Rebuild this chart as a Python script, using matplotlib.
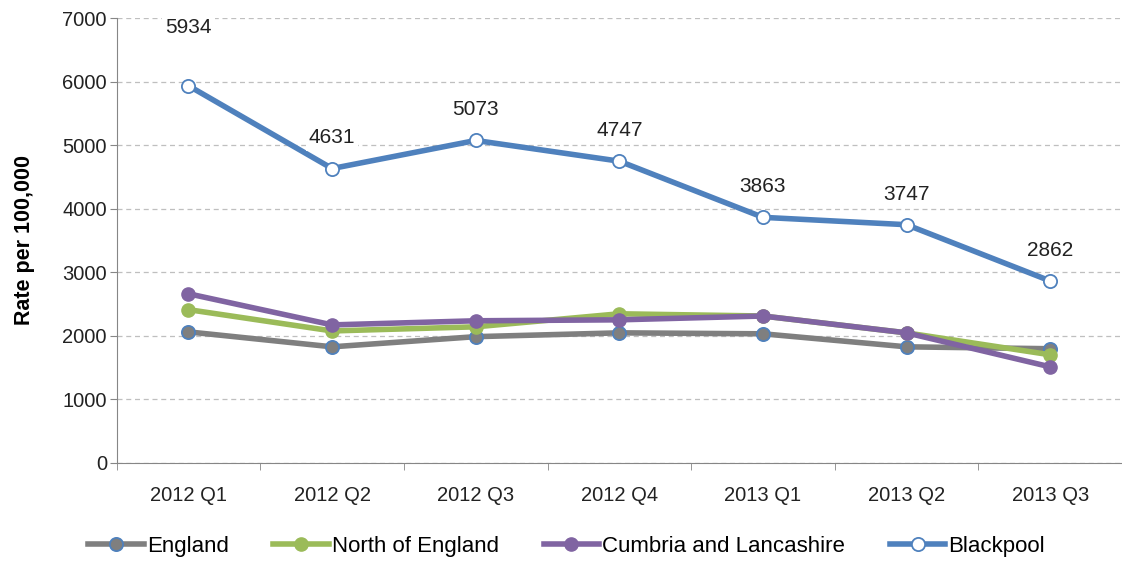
#Recreation of rate per 100,000 line chart
import numpy as np
import matplotlib.pyplot as plt

#Data
quarters = ['2012 Q1', '2012 Q2', '2012 Q3', '2012 Q4', '2013 Q1', '2013 Q2', '2013 Q3']
england = [2060, 1825, 1985, 2045, 2030, 1825, 1795]
north_england = [2410, 2075, 2140, 2345, 2310, 2045, 1700]
cumbria_lancs = [2660, 2170, 2235, 2250, 2310, 2045, 1510]
blackpool = [5934, 4631, 5073, 4747, 3863, 3747, 2862]

plt.rcParams['font.family'] = ['Liberation Sans', 'DejaVu Sans']

fig = plt.figure(figsize=(11.22, 5.63), dpi=100)
ax = fig.add_axes([0.104, 0.178, 0.896, 0.79])

x = np.arange(len(quarters))
lw = 4.0
ms = 9.5
ax.plot(x, england, color='#7f7f7f', lw=lw, marker='o', ms=ms,
        mfc='#7f7f7f', mec='#4f81bd', mew=1.3, label='England', zorder=3)
ax.plot(x, north_england, color='#9bbb59', lw=lw, marker='o', ms=ms,
        mfc='#9bbb59', mec='#9bbb59', label='North of England', zorder=4)
ax.plot(x, cumbria_lancs, color='#8064a2', lw=lw, marker='o', ms=ms,
        mfc='#8064a2', mec='#8064a2', label='Cumbria and Lancashire', zorder=5)
ax.plot(x, blackpool, color='#4f81bd', lw=lw, marker='o', ms=ms,
        mfc='white', mec='#4f81bd', mew=1.3, label='Blackpool', zorder=6)

#Data labels above Blackpool points (first one sits higher)
for i, v in enumerate(blackpool):
    off = 42 if i == 0 else 22
    ax.annotate(str(v), (x[i], v), xytext=(0, off), textcoords='offset points',
                ha='center', va='center', fontsize=15, color='#222222', zorder=7,
                bbox=dict(boxstyle='square,pad=0.15', fc='white', ec='none'))

ax.set_xlim(-0.5, len(quarters) - 0.5)
ax.set_ylim(0, 7000)
ax.set_yticks(np.arange(0, 7001, 1000))
ax.set_xticks(x)
ax.set_xticklabels(quarters)
ax.set_xticks(np.arange(-0.5, len(quarters), 1), minor=True)
ax.tick_params(axis='x', which='major', length=0, pad=17, labelsize=14.5, colors='#222222')
ax.tick_params(axis='x', which='minor', length=5, color='#868686')
ax.tick_params(axis='y', length=5, color='#868686', labelsize=14.5, labelcolor='#222222', pad=2)
ax.grid(axis='y', color='#bfbfbf', linestyle=(0, (4, 3)), lw=0.9)
ax.set_axisbelow(True)
for s in ['top', 'right']:
    ax.spines[s].set_visible(False)
ax.spines['left'].set_color('#868686')
ax.spines['bottom'].set_color('#868686')

ax.set_ylabel('Rate per 100,000', fontsize=15.5, fontweight='bold', labelpad=20)

fig.legend(loc='center', bbox_to_anchor=(0.505, 0.03), ncol=4, frameon=False,
           fontsize=16, handlelength=2.5, handletextpad=0.15, columnspacing=2.0)

fig.savefig('out.png', dpi=100)
